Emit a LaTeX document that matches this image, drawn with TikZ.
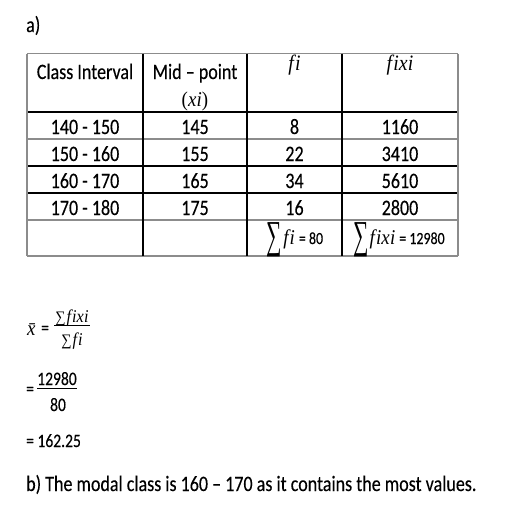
\documentclass[tikz,border=0pt]{standalone}
\usepackage{fontspec}
\setmainfont{Carlito}[FakeStretch=0.82,FakeBold=0.2]
\newfontfamily\mi{Liberation Serif}[FakeStretch=0.9]
\usepackage{graphicx}
\newcommand\fs[1]{\fontsize{#1}{#1}\selectfont}
\newcommand\fvar{{\mi\itshape f\kern1.2pt i}}
\newcommand\fxvar{{\mi\itshape f\kern1.2pt ix\kern0.3pt i}}
\newcommand\bigsum{\raisebox{-4.5pt}{\scalebox{1}[1.65]{\mi\fs{24}∑}}}
\newcommand\smsum{{\mi\fs{16}∑}}
\begin{document}
\begin{tikzpicture}[x=1pt,y=-1pt,
  txt/.style={inner sep=0pt, anchor=base, font=\fs{22}},
  gl/.style={line width=1.2pt, draw=black!45},
  bl/.style={line width=1.2pt, draw=black}]
\useasboundingbox[fill=white] (0,0) rectangle (512,512);
% label a)
\node[txt, anchor=base west] (la) at (26,32) {a)};
% grid lines
\draw[gl] (27,53.5) -- (458,53.5);
\draw[bl] (27,112) -- (458,112);
\draw[gl] (27,139) -- (458,139);
\draw[bl] (27,166) -- (458,166);
\draw[bl] (27,193) -- (458,193);
\draw[gl] (27,220) -- (458,220);
\draw[gl] (27,256) -- (458,256);
\draw[gl] (27,53.5) -- (27,256);
\draw[bl] (143,53.5) -- (143,256);
\draw[bl] (247,53.5) -- (247,256);
\draw[bl] (342,53.5) -- (342,256);
\draw[gl] (458,53.5) -- (458,256);
% header
\node[txt] (h1) at (85,79) {Class Interval};
\node[txt] (h2) at (195,79) {Mid – point};
\node[txt, font=\fs{21}] (h2b) at (195,106) {{\mi(\itshape x\kern0.3pt i\/\upshape)}};
\node[txt, font=\fs{22}] (h3) at (294.5,70) {\fvar};
\node[txt, font=\fs{22}] (h4) at (400,70) {\fxvar};
% rows
\node[txt] (r11) at (85,134) {140 - 150};
\node[txt] (r12) at (195,134) {145};
\node[txt] (r13) at (294.5,134) {8};
\node[txt] (r14) at (400,134) {1160};
\node[txt] (r21) at (85,161) {150 - 160};
\node[txt] (r22) at (195,161) {155};
\node[txt] (r23) at (294.5,161) {22};
\node[txt] (r24) at (400,161) {3410};
\node[txt] (r31) at (85,188) {160 - 170};
\node[txt] (r32) at (195,188) {165};
\node[txt] (r33) at (294.5,188) {34};
\node[txt] (r34) at (400,188) {5610};
\node[txt] (r41) at (85,215) {170 - 180};
\node[txt] (r42) at (195,215) {175};
\node[txt] (r43) at (294.5,215) {16};
\node[txt] (r44) at (400,215) {2800};
% sums
\node[txt, font=\fs{21}] (s3) at (295,244) {\bigsum\kern1pt\fvar\ {\fs{17}= 80}};
\node[txt, font=\fs{21}] (s4) at (399,244) {\bigsum\kern1pt\fxvar\ {\fs{17}= 12980}};
% mean formula
\node[txt, anchor=base west, font=\fs{21}] (xb) at (27,335) {{\mi\itshape\=x}};
\node[txt, anchor=base west, font=\fs{19}] (eq1) at (41,334) {=};
\node[txt, font=\fs{17}] (n1) at (72,322) {\smsum\kern1pt{\fs{18}\fxvar}};
\node[txt, font=\fs{17}] (d1) at (72,345) {\smsum\kern1pt{\fs{18}\fvar}};
\draw[line width=0.9pt] (54,325.5) -- (90,325.5);
\node[txt, anchor=base west, font=\fs{19}] (eq2) at (26,395) {=};
\node[txt, font=\fs{19}] (n2) at (57,385) {12980};
\node[txt, font=\fs{19}] (d2) at (58,411) {80};
\draw[line width=0.9pt] (37,388.5) -- (77,388.5);
\node[txt, anchor=base west, font=\fs{19}] (res) at (26,447) {= 162.25};
\node[txt, anchor=base west] (lb) at (26,491) {b) The modal class is 160 – 170 as it contains the most values.};
\end{tikzpicture}
\end{document}
